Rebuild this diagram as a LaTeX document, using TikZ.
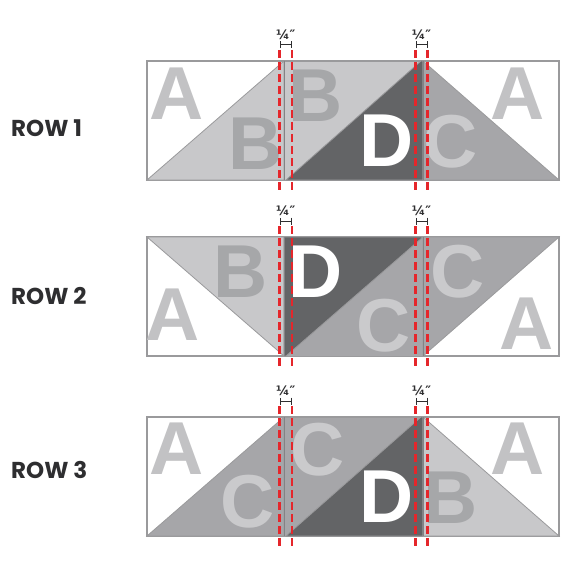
\documentclass[tikz,border=0pt]{standalone}
\usepackage{fontspec}
\usepackage{tikz}
\usetikzlibrary{arrows.meta,positioning,calc}
\newfontfamily\letterfont{Liberation Sans}
\newfontfamily\rowfont{Poppins}
\newfontfamily\dimfont{DejaVu Sans}
\definecolor{qlight}{HTML}{C8C8CA}
\definecolor{qmid}{HTML}{A6A6A9}
\definecolor{qdark}{HTML}{636466}
\definecolor{qedge}{HTML}{9A9A9C}
\definecolor{qletA}{HTML}{C2C2C4}
\definecolor{qletB}{HTML}{A6A7A9}
\definecolor{qletC}{HTML}{CACACC}
\definecolor{qred}{HTML}{E5262B}
\definecolor{qtext}{HTML}{2E2E30}

\begin{document}
\begin{tikzpicture}[x=1pt, y=-1pt,
    strip/.style={draw=qedge, line width=1.2pt, fill=white},
    pieceB/.style={fill=qlight, draw=qedge, line width=0.8pt},
    pieceC/.style={fill=qmid, draw=qedge, line width=0.8pt},
    pieceD/.style={fill=qdark, draw=qedge, line width=0.8pt},
    seam/.style={draw=qedge!85!black, line width=1pt},
    letter/.style={font=\letterfont\bfseries\fontsize{75}{75}\selectfont, inner sep=0pt},
    letA/.style={letter, text=qletA},
    letB/.style={letter, text=qletB},
    letC/.style={letter, text=qletC},
    letD/.style={letter, text=white},
    rowlabel/.style={font=\rowfont\bfseries\fontsize{23}{23}\selectfont, text=qtext, anchor=west, inner sep=0pt},
    cutline/.style={draw=qred, line width=2.4pt, dash pattern=on 8pt off 4pt},
    dimbar/.style={draw=qtext, line width=1pt, {Bar[width=7pt]}-{Bar[width=7pt]}},
    dimtext/.style={font=\dimfont\bfseries\fontsize{13}{13}\selectfont, text=qtext, inner sep=0pt}
  ]
  \useasboundingbox (0,0) rectangle (570,567);

  % Row 1
  \node[rowlabel] (r1) at (11,128) {ROW 1};
  \draw[strip] (147,61) rectangle (559,180);
  \draw[pieceB] (147,180) -- (284,61) -- (284,180) -- cycle;
  \draw[pieceB] (284,61) rectangle (423,180);
  \draw[pieceD] (286,180) -- (421,61) -- (423,61) -- (423,180) -- cycle;
  \draw[pieceC] (423,61) -- (559,180) -- (423,180) -- cycle;
  \node[letA] (a1l) at (177,94) {A};
  \node[letB] (b1l) at (256,144) {B};
  \node[letB] (b1m) at (316,96) {B};
  \node[letD] (d1) at (387,141) {D};
  \node[letC] (c1r) at (451,142) {C};
  \node[letA] (a1r) at (518,94) {A};

  % Row 2
  \node[rowlabel] (r2) at (11,296) {ROW 2};
  \draw[strip] (147,237) rectangle (559,356);
  \draw[pieceB] (147,237) -- (284,237) -- (284,356) -- cycle;
  \draw[pieceC] (284,237) rectangle (423,356);
  \draw[pieceD] (284,237) -- (423,237) -- (286,356) -- (284,356) -- cycle;
  \draw[pieceC] (423,237) -- (559,237) -- (423,356) -- cycle;
  \node[letA] (a2l) at (173,315) {A};
  \node[letB] (b2l) at (241,272) {B};
  \node[letD] (d2) at (316,272) {D};
  \node[letC] (c2m) at (384,326) {C};
  \node[letC] (c2r) at (458,272) {C};
  \node[letA] (a2r) at (527,324) {A};

  % Row 3
  \node[rowlabel] (r3) at (11,470) {ROW 3};
  \draw[strip] (147,417) rectangle (559,536);
  \draw[pieceC] (147,536) -- (284,417) -- (284,536) -- cycle;
  \draw[pieceC] (284,417) rectangle (423,536);
  \draw[pieceD] (286,536) -- (421,417) -- (423,417) -- (423,536) -- cycle;
  \draw[pieceB] (423,417) -- (559,536) -- (423,536) -- cycle;
  \node[letA] (a3l) at (177,449) {A};
  \node[letC] (c3l) at (248,502) {C};
  \node[letC] (c3m) at (318,450) {C};
  \node[letD] (d3) at (387,497) {D};
  \node[letB] (b3r) at (451,498) {B};
  \node[letA] (a3r) at (518,449) {A};

  % Seams and quarter-inch cut lines
  \foreach \t/\b in {61/180, 237/356, 417/536} {
    \draw[seam] (284,\t) -- (284,\b);
    \draw[seam] (423,\t) -- (423,\b);
    \foreach \xl/\xr in {279.5/292, 415.5/427.5} {
      \coordinate (cl) at (\xl,\t-11);
      \coordinate (cr) at (\xr,\t-11);
      \coordinate (bl) at (\xl,\b+10);
      \coordinate (br) at (\xr,\b+10);
      \draw[cutline] (cl) -- (bl);
      \draw[cutline] (cr) -- (br);
      \coordinate (ml) at (\xl,\t-16);
      \coordinate (mr) at (\xr,\t-16);
      \draw[dimbar] (ml) -- (mr);
      \node[dimtext] (q) at ($(ml)!0.5!(mr)+(0,-10)$) {¼″};
    }
  }
\end{tikzpicture}
\end{document}
